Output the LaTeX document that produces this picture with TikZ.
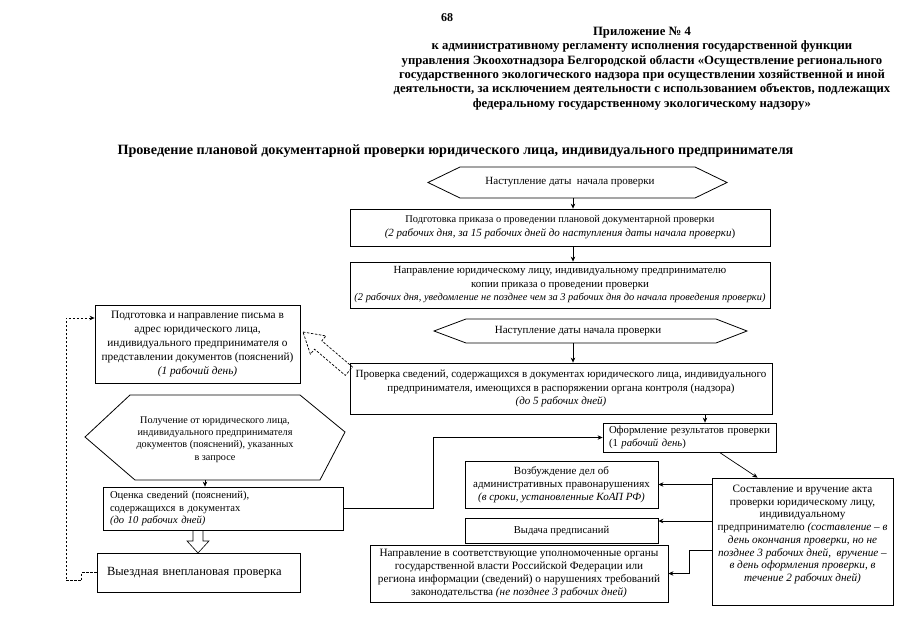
\documentclass[tikz,border=0pt]{standalone}
\usepackage{fontspec}
\setmainfont{Liberation Serif}
\usetikzlibrary{arrows.meta,calc}
\newcommand\fsz[2]{\fontsize{#1}{#2}\selectfont}
\begin{document}
\begin{tikzpicture}[x=1pt,y=-1pt,
  box/.style={draw, line width=0.8pt, inner sep=0pt, align=center},
  lbox/.style={box, align=left, inner xsep=7pt},
  arr/.style={-{Stealth[length=5pt,width=4.5pt]}, line width=0.7pt},
  dashl/.style={dash pattern=on 2.5pt off 1.5pt, line width=0.7pt},
  hex/.style={line width=0.8pt},
  txt/.style={inner sep=0pt, align=center},
]
\useasboundingbox (0,0) rectangle (905,640);

% header
\node[inner sep=0pt, font={\fsz{12}{14}\bfseries}] (pg) at (447,18) {68};
\node[txt, font={\fsz{12.7}{14.3}\bfseries}] (hdr) at (642,68.5) {Приложение № 4\\
к административному регламенту исполнения государственной функции\\
управления Экоохотнадзора Белгородской области «Осуществление регионального\\
государственного экологического надзора при осуществлении хозяйственной и иной\\
деятельности, за исключением деятельности с использованием объектов, подлежащих\\
федеральному государственному экологическому надзору»};
\node[txt, font={\fsz{14.2}{16}\bfseries}] (ttl) at (455.5,151) {Проведение плановой документарной проверки юридического лица, индивидуального предпринимателя};

% hexagon 1
\node[txt, font={\fsz{11}{13}}] (h1) at (570,182.5) {Наступление даты\ \ начала проверки};
\draw[hex] (428,182.5) -- (460,167) -- (695,167) -- (727,182.5) -- (695,198) -- (460,198) -- cycle;
\coordinate (h1s) at (573,198);

% box 2
\node[box, font={\fsz{10.4}{14}}, minimum width=420, minimum height=37] (b2) at (560,227.5) {Подготовка приказа о проведении плановой документарной проверки\\
\fsz{11}{14}\textit{(2 рабочих дня, за 15 рабочих дней до наступления даты начала проверки})};
% box 3
\node[box, font={\fsz{10.9}{13.5}}, minimum width=420, minimum height=46] (b3) at (560,285) {Направление юридическому лицу, индивидуальному предпринимателю\\
копии приказа о проведении проверки\\
\fsz{10.4}{13.5}\textit{(2 рабочих дня, уведомление не позднее чем за 3 рабочих дня до начала проведения проверки)}};
\draw[arr] (h1s) -- (h1s |- b2.north);
\draw[arr] ([xshift=13pt]b2.south) -- ([xshift=13pt]b3.north);

% hexagon 2
\node[txt, font={\fsz{11}{13}}] (h2) at (578,331) {Наступление даты начала проверки};
\draw[hex] (434,331) -- (466,319) -- (716,319) -- (747,331) -- (716,343) -- (466,343) -- cycle;
\coordinate (h2s) at (573,343);

% box 4
\node[box, font={\fsz{11}{13.5}}, minimum width=422, minimum height=51] (b4) at (561,388.5) {Проверка сведений, содержащихся в документах юридического лица, индивидуального\\
предпринимателя, имеющихся в распоряжении органа контроля (надзора)\\
\textit{(до 5 рабочих дней)}};
\draw[arr] (h2s) -- (h2s |- b4.north);

% box 1
\node[box, font={\fsz{11.3}{14.2}}, minimum width=205, minimum height=78] (b1) at (197.5,344) {Подготовка и направление письма в\\
адрес юридического лица,\\
индивидуального предпринимателя о\\
представлении документов (пояснений)\\
\textit{(1 рабочий день)}};

% dashed hollow arrow
\draw[dashl] (303,332) -- (326.0,335.9) -- (321.8,340.8) -- (352.5,367.0) -- (345.3,375.4) -- (314.6,349.2) -- (310.4,354.1) -- cycle;

% box 5
\node[lbox, font={\fsz{10.7}{12.5}}, inner xsep=6pt, text width=161, minimum height=29] (b5) at (689.5,437.5) {Оформление результатов проверки\\
(1 \textit{рабочий день})};
\draw[arr] ([xshift=144pt]b4.south) -- ([xshift=144pt]b4.south |- b5.north);

% hexagon 3
\node[txt, font={\fsz{10.2}{12.4}}] (h3) at (215,439.5) {Получение от юридического лица,\\
индивидуального предпринимателя\\
документов (пояснений), указанных\\
в запросе};
\draw[hex] (85,437) -- (130,395) -- (300,395) -- (345,432) -- (320,480) -- (135,480) -- cycle;
\coordinate (h3s) at (205,480);

% box 6
\node[lbox, font={\fsz{10.6}{12.5}}, text width=226, minimum height=43] (b6) at (223,508.5) {Оценка сведений (пояснений),\\
содержащихся в документах\\
\textit{(до 10 рабочих дней)}};
\draw[arr] (h3s) -- (h3s |- b6.north);
\coordinate (c1) at (433,0);
\draw[arr] (b6.east) -- (b6.east -| c1) |- (b5.west);

% box 7
\node[lbox, inner xsep=10pt, text width=183, minimum height=39, font={\fsz{12.5}{14}}] (b7) at (198.5,572.5) {Выездная внеплановая проверка};
\draw[line width=0.6pt] (193,530) -- (193,541) -- (187,541) -- (198,553) -- (209,541) -- (203,541) -- (203,530);

% dashed left connector
\coordinate (c2) at (66,318);
\draw[dashl, -{Stealth[length=5pt,width=4.5pt]}] (b7.west) -- ++(-15,0) -- ++(0,8) -- (66,580.5) -- (c2) -- (c2 -| b1.west);

% right-bottom boxes
\node[box, font={\fsz{11}{13}}, minimum width=193, minimum height=47] (b8) at (561.5,484.5) {Возбуждение дел об\\
административных правонарушениях\\
\textit{(в сроки, установленные КоАП РФ)}};
\node[box, font={\fsz{10.6}{13}}, minimum width=193, minimum height=25] (b10) at (561.5,530.5) {Выдача предписаний};
\node[box, font={\fsz{11.2}{13.3}}, minimum width=298, minimum height=57] (b11) at (519,573.5) {Направление в соответствующие уполномоченные органы\\
государственной власти Российской Федерации или\\
региона информации (сведений) о нарушениях требований\\
законодательства \textit{(не позднее 3 рабочих дней)}};
\node[box, minimum width=181, minimum height=127] (b9) at (802.5,541.5) {};
\node[txt, font={\fsz{11.2}{12.7}}] (b9t) at (802.5,534.5) {Составление и вручение акта\\
проверки юридическому лицу,\\
индивидуальному\\
предпринимателю \textit{(составление – в}\\
\textit{день окончания проверки, но не}\\
\textit{позднее 3 рабочих дней,\ \ вручение –}\\
\textit{в день оформления проверки, в}\\
\textit{течение 2 рабочих дней)}};

\coordinate (b10e) at ([yshift=9.5pt]b10.east);
\draw[arr] (b9.west |- b8.east) -- (b8.east);
\draw[arr] (b9.west |- b10e) -- (b10e);
\draw[arr] ([yshift=-8.5pt]b9.west) -- ++(-22,0) |- (b11.east);
\draw[arr] ([xshift=30pt]b5.south) -- ([xshift=-45pt]b9.north);
\end{tikzpicture}
\end{document}
